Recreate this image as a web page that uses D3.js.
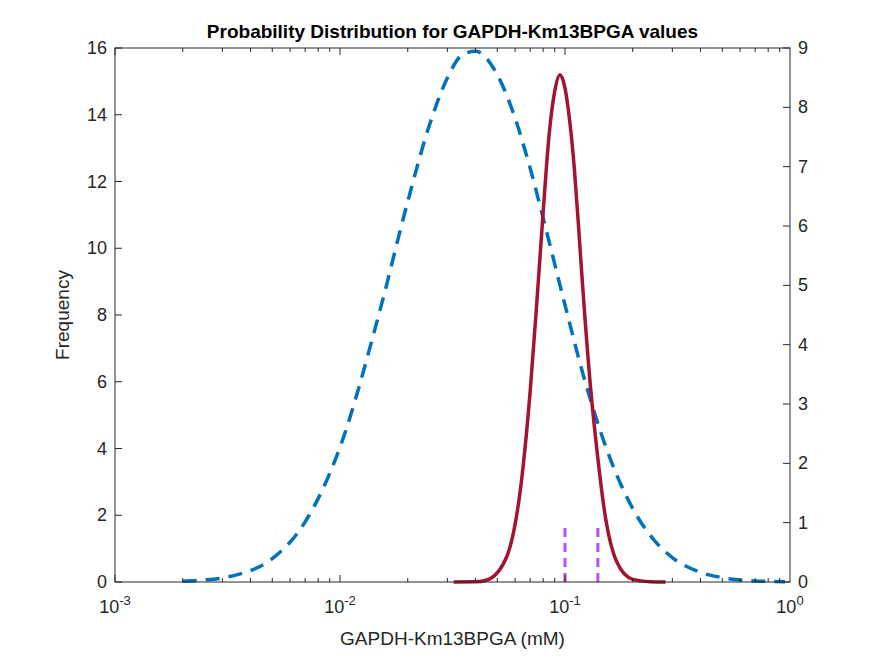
<!DOCTYPE html>
<html><head><meta charset="utf-8">
<script src="https://cdn.jsdelivr.net/npm/d3@7"></script>
<style>body{margin:0;background:#fff}text{font-family:"Liberation Sans",Arial,sans-serif}</style>
</head><body><svg id="c" width="875" height="656"></svg>
<script>
const blueX=[0.002,0.0025,0.003,0.0035,0.004,0.005,0.007,0.01,0.015,0.02,0.025,0.03,0.035,0.04,0.05,0.06,0.07,0.08,0.1,0.12,0.15,0.2,0.25,0.3,0.4,0.5,0.7,0.95];
const blueY=[0.02,0.06,0.12,0.22,0.34,0.70,1.80,4.04,8.1,11.4,13.7,15.1,15.8,15.9,15.2,13.9,12.4,10.9,8.3,6.25,4.15,2.2,1.24,0.73,0.29,0.13,0.03,0.01];
const redX=[0.032,0.04,0.045,0.055,0.065,0.07,0.075,0.08,0.085,0.09,0.095,0.1,0.105,0.11,0.115,0.12,0.13,0.14,0.15,0.17,0.2,0.24,0.28];
const redY=[0,0.005,0.06,0.75,3.4,5.7,8.4,11.1,13.4,14.7,15.2,14.8,13.8,12.4,10.6,8.8,5.8,3.7,2.1,0.6,0.08,0.01,0];
const vLinesX=[0.1,0.14], vLineTop=1; // right-axis units
const leftTicks=[0,2,4,6,8,10,12,14,16], rightTicks=[0,1,2,3,4,5,6,7,8,9];
const xTicks=[-3,-2,-1,0];

const svg=d3.select("#c");
const L=115,R=790,T=48,B=582;
const x=d3.scaleLog().domain([1e-3,1]).range([L,R]);
const y=d3.scaleLinear().domain([0,16]).range([B,T]);
const y2=d3.scaleLinear().domain([0,9]).range([B,T]);

const line=d3.line().x(d=>x(d[0])).y(d=>y(d[1])).curve(d3.curveMonotoneX);
svg.append("path").attr("d",line(blueX.map((v,i)=>[v,blueY[i]]))).attr("fill","none")
 .attr("stroke","#0072BD").attr("stroke-width",3.5).attr("stroke-dasharray","14,9");
svg.append("path").attr("d",line(redX.map((v,i)=>[v,redY[i]]))).attr("fill","none")
 .attr("stroke","#A2142F").attr("stroke-width",3.5);
vLinesX.forEach(v=>svg.append("line").attr("x1",x(v)).attr("x2",x(v)).attr("y1",y2(0)).attr("y2",y2(vLineTop))
 .attr("stroke","#B84CFF").attr("stroke-width",3).attr("stroke-dasharray","9,6"));

const g=svg.append("g").attr("stroke","#262626").attr("fill","none");
g.append("rect").attr("x",L).attr("y",T).attr("width",R-L).attr("height",B-T).attr("stroke-width",1);
for(let e=-3;e<0;e++)for(let m=1;m<10;m++){const v=m*Math.pow(10,e),len=m==1?7:4,px=x(v);
 g.append("line").attr("x1",px).attr("x2",px).attr("y1",B).attr("y2",B-len);
 g.append("line").attr("x1",px).attr("x2",px).attr("y1",T).attr("y2",T+len);}
leftTicks.forEach(t=>{g.append("line").attr("x1",L).attr("x2",L+7).attr("y1",y(t)).attr("y2",y(t));
 svg.append("text").attr("x",L-8).attr("y",y(t)+6).attr("text-anchor","end").attr("font-size",18).attr("fill","#262626").text(t);});
rightTicks.forEach(t=>{g.append("line").attr("x1",R).attr("x2",R-7).attr("y1",y2(t)).attr("y2",y2(t));
 svg.append("text").attr("x",R+8).attr("y",y2(t)+6).attr("font-size",18).attr("fill","#262626").text(t);});
xTicks.forEach(e=>{const t=svg.append("text").attr("x",x(Math.pow(10,e))).attr("y",B+31).attr("text-anchor","middle").attr("font-size",18).attr("fill","#262626");
 t.append("tspan").text("10");t.append("tspan").attr("dy",-8).attr("font-size",13).text(e);});
svg.append("text").attr("x",(L+R)/2).attr("y",B+63).attr("text-anchor","middle").attr("font-size",19).attr("fill","#262626").text("GAPDH-Km13BPGA (mM)");
svg.append("text").attr("transform",`translate(69,${(T+B)/2}) rotate(-90)`).attr("text-anchor","middle").attr("font-size",19).attr("fill","#262626").text("Frequency");
svg.append("text").attr("x",(L+R)/2).attr("y",T-10).attr("text-anchor","middle").attr("font-size",19).attr("font-weight","bold").attr("fill","#000").text("Probability Distribution for GAPDH-Km13BPGA values");
</script></body></html>
